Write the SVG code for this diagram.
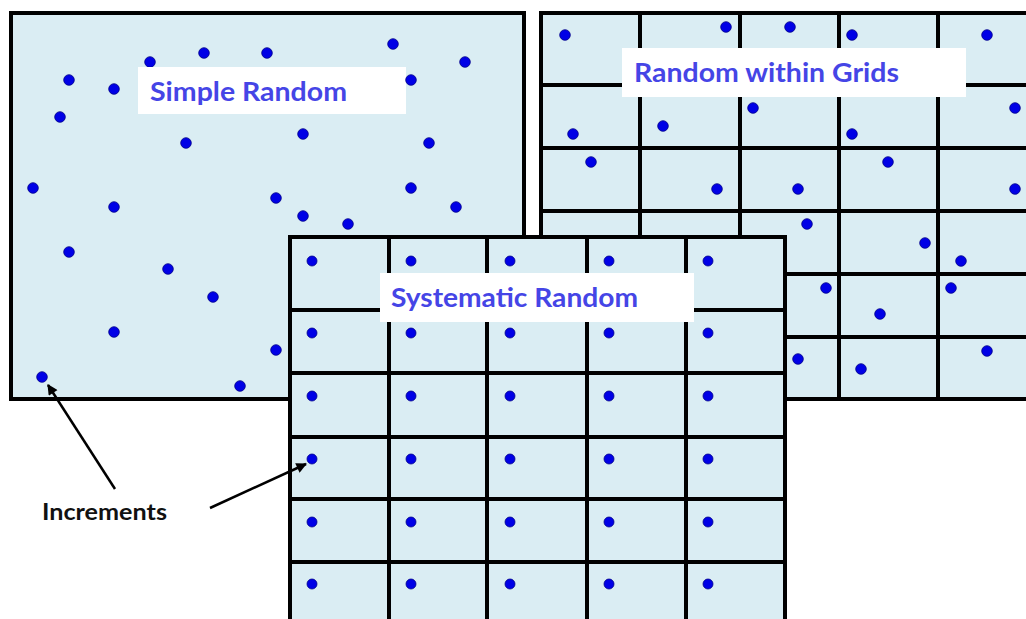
<svg xmlns="http://www.w3.org/2000/svg" width="1026" height="619" viewBox="0 0 1026 619">
<style>
.panel{fill:#daedf3;stroke:#000;stroke-width:4}
.grid{stroke:#000;stroke-width:4;fill:none}
.dot{fill:#0000e6;stroke:#00008a;stroke-width:0.8}
.lblbox{fill:#fff}
.lbl{font-family:Lato,"Open Sans",sans-serif;font-weight:bold;font-size:26px;fill:#4545e6}
.note{font-family:Lato,"Open Sans",sans-serif;font-weight:bold;font-size:22px;fill:#111}
.arrow{stroke:#000;stroke-width:2.5;fill:none}
</style>
<defs>
<marker id="ah" viewBox="0 0 10 10" refX="9" refY="5" markerWidth="4.6" markerHeight="4.2" orient="auto" markerUnits="strokeWidth">
<path d="M0,0 L10,5 L0,10 z" fill="#000"/>
</marker>
</defs>
<rect width="1026" height="619" fill="#fff"/>

<g id="simple-random">
<rect class="panel" x="11" y="13" width="513" height="386"/>
<g>
<circle class="dot" cx="69" cy="80" r="5.3"/>
<circle class="dot" cx="114" cy="89" r="5.3"/>
<circle class="dot" cx="150" cy="62" r="5.3"/>
<circle class="dot" cx="204" cy="53" r="5.3"/>
<circle class="dot" cx="267" cy="53" r="5.3"/>
<circle class="dot" cx="393" cy="44" r="5.3"/>
<circle class="dot" cx="465" cy="62" r="5.3"/>
<circle class="dot" cx="60" cy="117" r="5.3"/>
<circle class="dot" cx="186" cy="143" r="5.3"/>
<circle class="dot" cx="303" cy="134" r="5.3"/>
<circle class="dot" cx="429" cy="143" r="5.3"/>
<circle class="dot" cx="33" cy="188" r="5.3"/>
<circle class="dot" cx="114" cy="207" r="5.3"/>
<circle class="dot" cx="276" cy="198" r="5.3"/>
<circle class="dot" cx="303" cy="216" r="5.3"/>
<circle class="dot" cx="348" cy="224" r="5.3"/>
<circle class="dot" cx="411" cy="188" r="5.3"/>
<circle class="dot" cx="456" cy="207" r="5.3"/>
<circle class="dot" cx="69" cy="252" r="5.3"/>
<circle class="dot" cx="168" cy="269" r="5.3"/>
<circle class="dot" cx="213" cy="297" r="5.3"/>
<circle class="dot" cx="114" cy="332" r="5.3"/>
<circle class="dot" cx="276" cy="350" r="5.3"/>
<circle class="dot" cx="42" cy="377" r="5.3"/>
<circle class="dot" cx="240" cy="386" r="5.3"/>
</g>
<rect class="lblbox" x="138" y="67" width="268" height="47"/>
<circle class="dot" cx="411" cy="80" r="5.3"/>
<text class="lbl" x="150" y="101" textLength="197" lengthAdjust="spacingAndGlyphs">Simple Random</text>
</g>

<g id="random-within-grids">
<rect class="panel" x="541" y="13" width="500" height="386"/>
<path class="grid" d="M640,13V399M740,13V399M839,13V399M938,13V399M1037,13V399M541,85H1041M541,148H1041M541,211H1041M541,274H1041M541,337H1041"/>
<g>
<circle class="dot" cx="565" cy="35" r="5.3"/>
<circle class="dot" cx="726" cy="27" r="5.3"/>
<circle class="dot" cx="790" cy="27" r="5.3"/>
<circle class="dot" cx="852" cy="35" r="5.3"/>
<circle class="dot" cx="987" cy="35" r="5.3"/>
<circle class="dot" cx="1015" cy="108" r="5.3"/>
<circle class="dot" cx="573" cy="134" r="5.3"/>
<circle class="dot" cx="663" cy="126" r="5.3"/>
<circle class="dot" cx="753" cy="108" r="5.3"/>
<circle class="dot" cx="852" cy="134" r="5.3"/>
<circle class="dot" cx="591" cy="162" r="5.3"/>
<circle class="dot" cx="717" cy="189" r="5.3"/>
<circle class="dot" cx="798" cy="189" r="5.3"/>
<circle class="dot" cx="888" cy="162" r="5.3"/>
<circle class="dot" cx="1015" cy="189" r="5.3"/>
<circle class="dot" cx="807" cy="224" r="5.3"/>
<circle class="dot" cx="925" cy="243" r="5.3"/>
<circle class="dot" cx="961" cy="261" r="5.3"/>
<circle class="dot" cx="826" cy="288" r="5.3"/>
<circle class="dot" cx="880" cy="314" r="5.3"/>
<circle class="dot" cx="951" cy="288" r="5.3"/>
<circle class="dot" cx="798" cy="359" r="5.3"/>
<circle class="dot" cx="861" cy="369" r="5.3"/>
<circle class="dot" cx="987" cy="351" r="5.3"/>
</g>
<rect class="lblbox" x="622" y="48" width="344" height="49"/>
<text class="lbl" x="634" y="82" textLength="265" lengthAdjust="spacingAndGlyphs">Random within Grids</text>
</g>

<g id="systematic-random">
<rect class="panel" x="290" y="237" width="495" height="400"/>
<path class="grid" d="M389,237V630M487,237V630M587,237V630M686,237V630M290,310H785M290,373H785M290,437H785M290,499H785M290,562H785"/>
<g>
<circle class="dot" cx="312" cy="261" r="5"/><circle class="dot" cx="411" cy="261" r="5"/><circle class="dot" cx="510" cy="261" r="5"/><circle class="dot" cx="609" cy="261" r="5"/><circle class="dot" cx="708" cy="261" r="5"/>
<circle class="dot" cx="312" cy="333" r="5"/><circle class="dot" cx="411" cy="333" r="5"/><circle class="dot" cx="510" cy="333" r="5"/><circle class="dot" cx="609" cy="333" r="5"/><circle class="dot" cx="708" cy="333" r="5"/>
<circle class="dot" cx="312" cy="396" r="5"/><circle class="dot" cx="411" cy="396" r="5"/><circle class="dot" cx="510" cy="396" r="5"/><circle class="dot" cx="609" cy="396" r="5"/><circle class="dot" cx="708" cy="396" r="5"/>
<circle class="dot" cx="312" cy="459" r="5"/><circle class="dot" cx="411" cy="459" r="5"/><circle class="dot" cx="510" cy="459" r="5"/><circle class="dot" cx="609" cy="459" r="5"/><circle class="dot" cx="708" cy="459" r="5"/>
<circle class="dot" cx="312" cy="522" r="5"/><circle class="dot" cx="411" cy="522" r="5"/><circle class="dot" cx="510" cy="522" r="5"/><circle class="dot" cx="609" cy="522" r="5"/><circle class="dot" cx="708" cy="522" r="5"/>
<circle class="dot" cx="312" cy="584" r="5"/><circle class="dot" cx="411" cy="584" r="5"/><circle class="dot" cx="510" cy="584" r="5"/><circle class="dot" cx="609" cy="584" r="5"/><circle class="dot" cx="708" cy="584" r="5"/>
</g>
<rect class="lblbox" x="380" y="273" width="314" height="49"/>
<text class="lbl" x="391" y="307" textLength="247" lengthAdjust="spacingAndGlyphs">Systematic Random</text>
</g>

<g id="increments">
<text class="note" x="42" y="520" textLength="125" lengthAdjust="spacingAndGlyphs">Increments</text>
</g>

<g id="connectors">
<line class="arrow" x1="115" y1="489" x2="48" y2="385" marker-end="url(#ah)"/>
<line class="arrow" x1="210" y1="508" x2="306" y2="464" marker-end="url(#ah)"/>
</g>
</svg>
